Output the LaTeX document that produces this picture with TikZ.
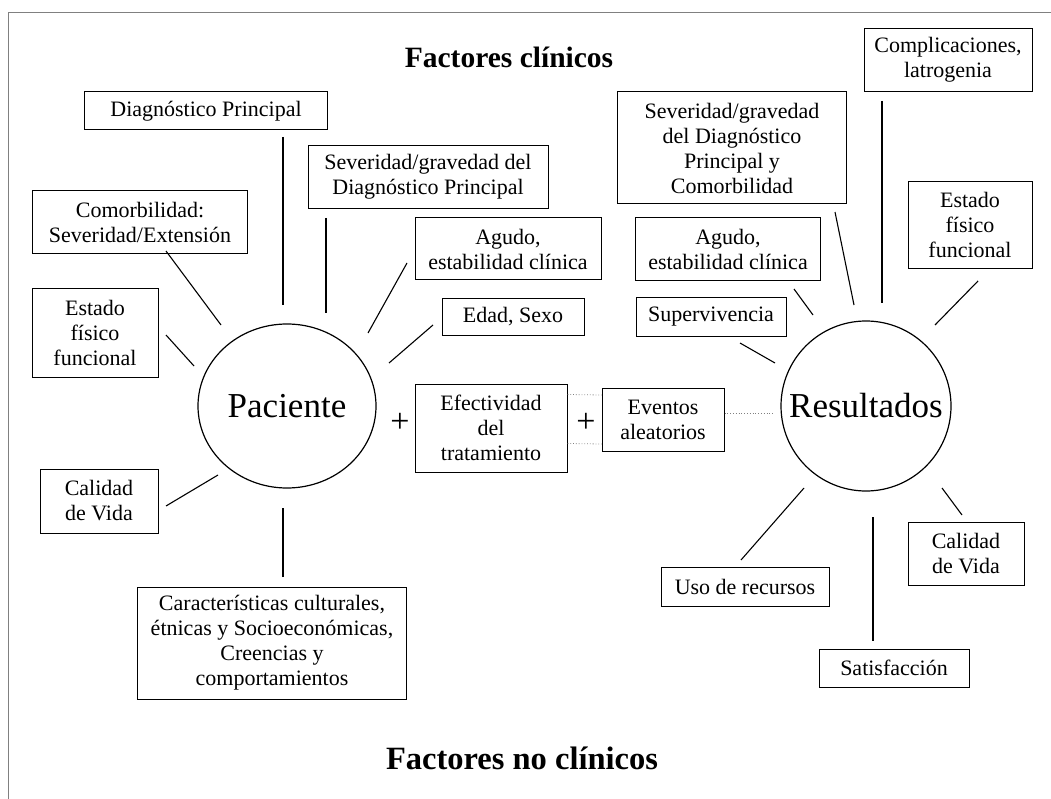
\documentclass[tikz,border=0pt]{standalone}
\usepackage{fontspec}
\setmainfont{Liberation Serif}
\usetikzlibrary{shapes.geometric,calc}
\tikzset{
  caja/.style={draw, line width=1pt, align=center, inner sep=0pt,
    font=\fontsize{22}{25}\selectfont},
  radio/.style={line width=1.1pt},
  punteo/.style={gray, dotted, line width=0.8pt},
  titulo/.style={font=\bfseries\fontsize{29.5}{34}\selectfont}
}
\begin{document}
\begin{tikzpicture}[x=1pt, y=-1pt]
  \useasboundingbox (0,0) rectangle (1051,799);
  \draw[gray, line width=0.8pt] (8,799) -- (8,12) -- (1051,12);

  \node[titulo] (tclin) at (509,57) {Factores clínicos};
  \node[titulo, font=\bfseries\fontsize{32.5}{38}\selectfont] (tnoclin) at (522,758) {Factores no clínicos};

  \node[draw, ellipse, line width=1.2pt, minimum width=178pt, minimum height=164pt, inner sep=0pt,
    font=\fontsize{35}{40}\selectfont] (pac) at (287,406) {Paciente};
  \node[draw, circle, line width=1.2pt, minimum size=170pt, inner sep=0pt,
    font=\fontsize{35}{40}\selectfont] (res) at (866,406) {Resultados};

  % paciente
  \node[caja, minimum width=243pt, minimum height=38pt] (diag) at (206,111) {Diagnóstico Principal};
  \node[caja, minimum width=215pt, minimum height=63pt] (comor) at (140,222) {Comorbilidad:\\Severidad/Extensión};
  \node[caja, minimum width=126pt, minimum height=88pt] (estL) at (95,333) {Estado\\físico\\funcional};
  \node[caja, minimum width=240pt, minimum height=63pt] (sevL) at (428,177) {Severidad/gravedad del\\Diagnóstico Principal};
  \node[caja, minimum width=186pt, minimum height=62pt] (agL) at (508,249) {Agudo,\\estabilidad clínica};
  \node[caja, minimum width=142pt, minimum height=37pt] (edad) at (513,317) {Edad, Sexo};
  \node[caja, minimum width=118pt, minimum height=64pt] (calL) at (99,501) {Calidad\\de Vida};
  \node[caja, minimum width=269pt, minimum height=112pt] (carac) at (272,643) {Características culturales,\\étnicas y Socioeconómicas,\\Creencias y\\comportamientos};

  % centro
  \node[caja, minimum width=152pt, minimum height=88pt] (efec) at (491,428) {Efectividad\\del\\tratamiento};
  \node[caja, minimum width=122pt, minimum height=63pt] (even) at (663,420) {Eventos\\aleatorios};
  \node[font=\fontsize{34}{38}\selectfont] (mas1) at (400,423) {+};
  \node[font=\fontsize{34}{38}\selectfont] (mas2) at (586,423) {+};

  % resultados
  \node[caja, minimum width=229pt, minimum height=112pt] (sevR) at (732,148) {Severidad/gravedad\\del Diagnóstico\\Principal y\\Comorbilidad};
  \node[caja, minimum width=168pt, minimum height=63pt] (compl) at (948,60) {Complicaciones,\\latrogenia};
  \node[caja, minimum width=185pt, minimum height=63pt] (agR) at (728,249) {Agudo,\\estabilidad clínica};
  \node[caja, minimum width=150pt, minimum height=38pt] (superv) at (711,317) {Supervivencia};
  \node[caja, minimum width=124pt, minimum height=87pt] (estR) at (970,225) {Estado\\físico\\funcional};
  \node[caja, minimum width=168pt, minimum height=39pt] (uso) at (745,587) {Uso de recursos};
  \node[caja, minimum width=116pt, minimum height=63pt] (calR) at (966,554) {Calidad\\de Vida};
  \node[caja, minimum width=150pt, minimum height=38pt] (satis) at (894,668) {Satisfacción};

  \draw[radio] ($(diag)+(77,26)$) -- ($(pac)+(-4,-101)$);
  \draw[radio] ($(sevL)+(-102,41)$) -- ($(pac)+(39,-93)$);
  \draw[radio] ($(comor)+(26,29)$) -- ($(pac)+(-66,-81)$);
  \draw[radio] ($(estL)+(71,2)$) -- ($(pac)+(-93,-40)$);
  \draw[radio] ($(agL)+(-101,14)$) -- ($(pac)+(81,-73)$);
  \draw[radio] ($(edad)+(-80,8)$) -- ($(pac)+(102,-43)$);
  \draw[radio] ($(calL)+(67,5)$) -- ($(pac)+(-69,69)$);
  \draw[radio] ($(carac)+(11,-66)$) -- ($(pac)+(-4,102)$);

  \draw[radio] ($(sevR)+(103,64)$) -- ($(res)+(-12,-101)$);
  \draw[radio] ($(compl)+(-66,41)$) -- ($(res)+(16,-103)$);
  \draw[radio] ($(estR)+(8,56)$) -- ($(res)+(69,-81)$);
  \draw[radio] ($(agR)+(66,40)$) -- ($(res)+(-53,-91)$);
  \draw[radio] ($(superv)+(29,26)$) -- ($(res)+(-91,-43)$);
  \draw[radio] ($(uso)+(-4,-27)$) -- ($(res)+(-62,82)$);
  \draw[radio] ($(res)+(7,111)$) -- ($(satis)+(-21,-27)$);
  \draw[radio] ($(res)+(76,82)$) -- ($(calR)+(-4,-39)$);

  \draw[punteo] ($(efec.north east)+(0,11)$) -- ($(even.north west)+(0,7)$);
  \draw[punteo] ($(efec.south east)+(0,-29)$) -- ($(even.south west)+(0,-8)$);
  \draw[punteo] ($(even.east)+(0,-7)$) -- ($(res.west)+(-6,7)$);
\end{tikzpicture}
\end{document}
